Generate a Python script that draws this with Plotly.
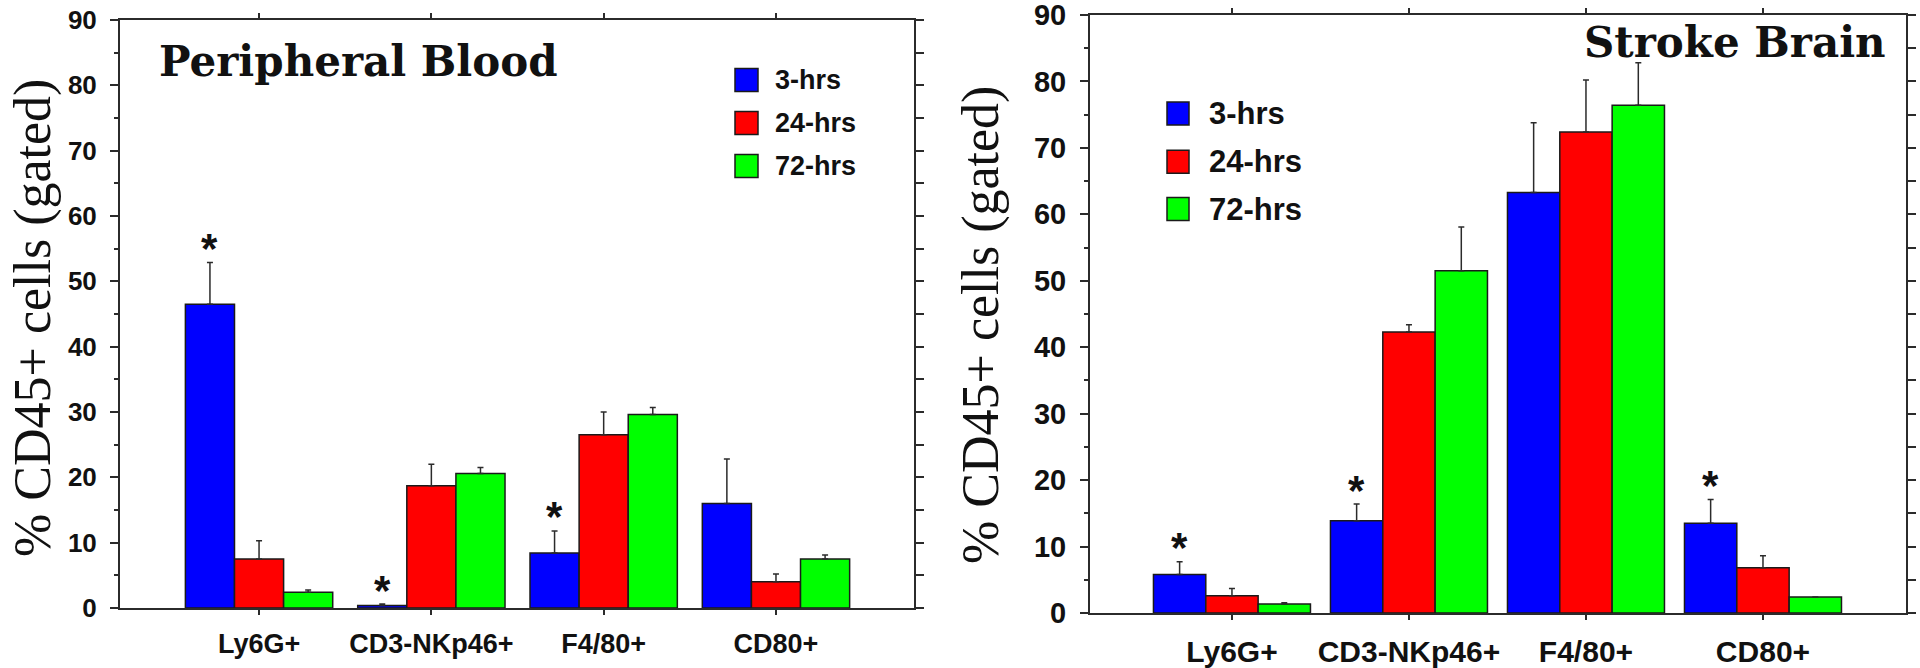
import plotly.graph_objects as go

categories = ["Ly6G+", "CD3-NKp46+", "F4/80+", "CD80+"]
series_names = ["3-hrs", "24-hrs", "72-hrs"]
series_colors = ["#0000FF", "#FF0000", "#00FF00"]
y_ticks = [0, 10, 20, 30, 40, 50, 60, 70, 80, 90]

# Peripheral Blood (means and upper SEM)
blood_3h = [46.5, 0.4, 8.4, 16.0]
blood_24h = [7.5, 18.7, 26.5, 4.0]
blood_72h = [2.4, 20.6, 29.6, 7.5]
blood_3h_err = [6.4, 0.2, 3.4, 6.8]
blood_24h_err = [2.8, 3.3, 3.5, 1.2]
blood_72h_err = [0.35, 0.9, 1.1, 0.6]
blood_sig_3h = [True, True, True, False]

# Stroke Brain
brain_3h = [5.8, 13.9, 63.3, 13.5]
brain_24h = [2.6, 42.3, 72.4, 6.8]
brain_72h = [1.35, 51.5, 76.4, 2.4]
brain_3h_err = [1.9, 2.5, 10.5, 3.6]
brain_24h_err = [1.1, 1.1, 7.8, 1.8]
brain_72h_err = [0.2, 6.6, 6.4, 0.0]
brain_sig_3h = [True, True, False, True]

W, H = 1920, 668
def px(x):
    return x / W
def py(y):
    return 1 - y / H

AX = "#2b2b2b"
TXT = "#111111"
SANS = "Liberation Sans, Arial, sans-serif"
SERIF = "Liberation Serif, Times New Roman, serif"
TSERIF = "DejaVu Serif, serif"

panels = [
    dict(vals=[blood_3h, blood_24h, blood_72h],
         errs=[blood_3h_err, blood_24h_err, blood_72h_err], sig=blood_sig_3h,
         xa="x", ya="y", bargap=0.145,
         xdom=[px(120), px(914)], ydom=[py(608), py(20)], xrange=[-0.807, 3.801],
         tickfs=26, xtickfs=27),
    dict(vals=[brain_3h, brain_24h, brain_72h],
         errs=[brain_3h_err, brain_24h_err, brain_72h_err], sig=brain_sig_3h,
         xa="x2", ya="y2", bargap=0.113,
         xdom=[px(1090), px(1906)], ydom=[py(613), py(15)], xrange=[-0.802, 3.808],
         tickfs=29, xtickfs=30),
]

fig = go.Figure()
xpos = list(range(len(categories)))

for p in panels:
    gw = 1 - p["bargap"]
    bw = gw / 3
    for k, (name, color, v, e) in enumerate(zip(series_names, series_colors, p["vals"], p["errs"])):
        fig.add_trace(go.Bar(
            x=xpos, y=v, name=name, xaxis=p["xa"], yaxis=p["ya"],
            width=bw, offset=-gw / 2 + k * bw,
            marker=dict(color=color, line=dict(color="#1a1a1a", width=1.5)),
            error_y=dict(type="data", symmetric=False, array=e,
                         arrayminus=[0] * len(e), color=AX, thickness=1.5, width=3),
            showlegend=False, hoverinfo="x+y+name",
        ))

# invisible helper traces so the right-side tick axes render
fig.add_trace(go.Scatter(x=[None], y=[None], xaxis="x", yaxis="y3", showlegend=False))
fig.add_trace(go.Scatter(x=[None], y=[None], xaxis="x2", yaxis="y4", showlegend=False))

def xaxis_cfg(p):
    return dict(domain=p["xdom"], range=p["xrange"], tickvals=xpos, ticktext=categories,
                showline=True, linecolor=AX, linewidth=2, mirror="ticks",
                ticks="outside", ticklen=5, tickwidth=1.5, tickcolor=AX,
                tickfont=dict(family=SANS, size=p["xtickfs"], color=TXT, weight="bold"),
                ticklabelstandoff=6, ticklabeloverflow="allow",
                showgrid=False, zeroline=False, fixedrange=True, automargin=False)

def yaxis_cfg(p, anchor):
    return dict(domain=p["ydom"], range=[0, 90], anchor=anchor, tickvals=y_ticks,
                showline=True, linecolor=AX, linewidth=2,
                ticks="outside", ticklen=8, tickwidth=1.5, tickcolor=AX,
                minor=dict(dtick=5, ticks="outside", ticklen=4, tickwidth=1.5,
                           tickcolor=AX, showgrid=False),
                tickfont=dict(family=SANS, size=p["tickfs"], color=TXT, weight="bold"),
                ticklabelstandoff=8, ticklabeloverflow="allow",
                showgrid=False, zeroline=False, fixedrange=True, automargin=False)

def yright_cfg(p, overlay, anchor):
    return dict(domain=p["ydom"], range=[0, 90], overlaying=overlay, anchor=anchor,
                side="right", dtick=5, showline=True, linecolor=AX, linewidth=2,
                ticks="outside", ticklen=8, tickwidth=1.5, tickcolor=AX,
                showticklabels=False, showgrid=False, zeroline=False,
                fixedrange=True, automargin=False)

fig.update_layout(
    template="none",
    xaxis=xaxis_cfg(panels[0]) | dict(anchor="y"),
    yaxis=yaxis_cfg(panels[0], "x"),
    yaxis3=yright_cfg(panels[0], "y", "x"),
    xaxis2=xaxis_cfg(panels[1]) | dict(anchor="y2"),
    yaxis2=yaxis_cfg(panels[1], "x2"),
    yaxis4=yright_cfg(panels[1], "y2", "x2"),
)

annotations = []
shapes = []

# significance asterisks above the 3-hrs bars
for p in panels:
    gw = 1 - p["bargap"]
    off = -gw / 3
    xr = "x" if p["xa"] == "x" else "x2"
    yr = "y" if p["ya"] == "y" else "y2"
    for i, s in enumerate(p["sig"]):
        if s:
            annotations.append(dict(
                x=i + off, y=p["vals"][0][i] + p["errs"][0][i], xref=xr, yref=yr,
                text="<b>*</b>", showarrow=False, yanchor="middle", yshift=14,
                font=dict(family=SANS, size=42, color=TXT)))

# panel titles
annotations.append(dict(x=px(157), y=py(61), xref="paper", yref="paper",
                        text="<b>Peripheral Blood</b>", showarrow=False,
                        xanchor="left", yanchor="middle",
                        font=dict(family=TSERIF, size=42, color=TXT)))
annotations.append(dict(x=px(1582), y=py(42), xref="paper", yref="paper",
                        text="<b>Stroke Brain</b>", showarrow=False,
                        xanchor="left", yanchor="middle",
                        font=dict(family=TSERIF, size=42, color=TXT)))

# y-axis titles
for xc, yc in [(33, 318), (981, 325)]:
    annotations.append(dict(x=px(xc), y=py(yc), xref="paper", yref="paper",
                            text="% CD45+ cells (gated)", textangle=-90,
                            showarrow=False, xanchor="center", yanchor="middle",
                            font=dict(family=SERIF, size=52, color=TXT)))

# legends (one per panel)
legend_specs = [
    dict(x0=735, x1=758, ys=[80, 123, 166], half=11.5, tx=773, fs=27),
    dict(x0=1167, x1=1189, ys=[113.5, 161.7, 209], half=11.5, tx=1207, fs=31),
]
for L in legend_specs:
    for name, color, yc in zip(series_names, series_colors, L["ys"]):
        shapes.append(dict(type="rect", xref="paper", yref="paper",
                           x0=px(L["x0"]), x1=px(L["x1"]),
                           y0=py(yc + L["half"]), y1=py(yc - L["half"]),
                           fillcolor=color, line=dict(color="#1a1a1a", width=1.5)))
        annotations.append(dict(x=px(L["tx"]), y=py(yc), xref="paper", yref="paper",
                                text="<b>" + name + "</b>", showarrow=False,
                                xanchor="left", yanchor="middle",
                                font=dict(family=SANS, size=L["fs"], color=TXT)))

fig.update_layout(
    width=W, height=H, margin=dict(l=0, r=0, t=0, b=0, pad=0, autoexpand=False),
    paper_bgcolor="white", plot_bgcolor="white",
    barmode="overlay",
    annotations=annotations, shapes=shapes, showlegend=False,
)

fig.write_html("out.html", config={"displayModeBar": False},
               post_script="document.body.style.margin='0';document.body.style.overflow='hidden';")
